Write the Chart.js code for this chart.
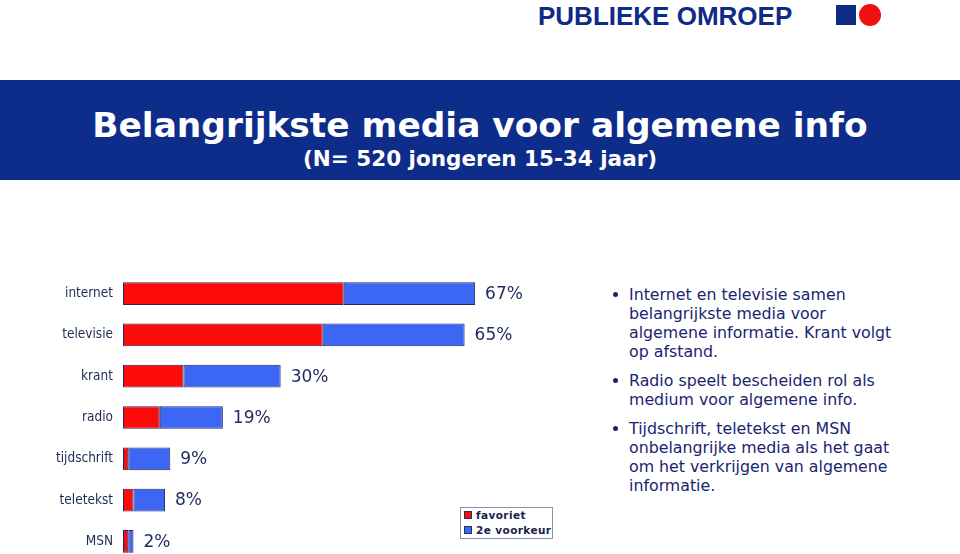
<!DOCTYPE html>
<html>
<head>
<meta charset="utf-8">
<script src="https://cdn.jsdelivr.net/npm/chart.js@4.4.0/dist/chart.umd.min.js"></script>
<style>
  html, body { margin: 0; padding: 0; background: #fff; overflow: hidden; }
  body { width: 960px; height: 554px; position: relative; font-family: "DejaVu Sans", sans-serif; }
  .logo { position: absolute; left: 538px; top: 1px; font: bold 26px "Liberation Sans", sans-serif; color: #0e2b86; }
  .logo-sq { position: absolute; left: 836px; top: 5px; width: 20px; height: 20px; background: #0e2b86; }
  .logo-dot { position: absolute; left: 859px; top: 4px; width: 22px; height: 22px; border-radius: 50%; background: #ee1111; }
  .band { position: absolute; left: 0; top: 80px; width: 960px; height: 100px; background: #0e2d8b; color: #fff; text-align: center; font-family: "DejaVu Sans", sans-serif; font-weight: bold; }
  .band h1 { margin: 0; position: absolute; left: 0; right: 0; top: 25px; font-size: 34.4px; line-height: 40px; }
  .band h2 { margin: 0; position: absolute; left: 0; right: 0; top: 67px; font-size: 21.5px; line-height: 24px; }
  #mediaChart { position: absolute; left: 0; top: 270px; }
  #legend { position: absolute; left: 460px; top: 507px; width: 88px; height: 30px; border: 1px solid #8a8fb2; background: #fff; padding: 0 0 0 3px; }
  #legend div { font: bold 10.5px "DejaVu Sans", sans-serif; letter-spacing: 0.4px; color: #1a1d4a; line-height: 15px; white-space: nowrap; }
  #legend span { display: inline-block; width: 6px; height: 6px; margin-right: 4px; border: 1px solid #2b2a6e; vertical-align: 0px; }
  .notes { position: absolute; left: 629px; top: 285px; font-size: 15.8px; line-height: 19px; color: #1a2470; white-space: nowrap; }
  .notes p { margin: 0 0 10px 0; position: relative; }
  .notes p::before { content: ""; position: absolute; left: -16px; top: 7px; width: 5px; height: 5px; border-radius: 50%; background: #1a2470; }
</style>
</head>
<body>
<div class="logo">PUBLIEKE OMROEP</div>
<div class="logo-sq"></div>
<div class="logo-dot"></div>
<div class="band">
  <h1>Belangrijkste media voor algemene info</h1>
  <h2>(N= 520 jongeren 15-34 jaar)</h2>
</div>
<canvas id="mediaChart" width="596" height="292"></canvas>
<div id="legend"></div>
<div class="notes">
  <p>Internet en televisie samen<br>belangrijkste media voor<br>algemene informatie. Krant volgt<br>op afstand.</p>
  <p>Radio speelt bescheiden rol als<br>medium voor algemene info.</p>
  <p>Tijdschrift, teletekst en MSN<br>onbelangrijke media als het gaat<br>om het verkrijgen van algemene<br>informatie.</p>
</div>
<script>
// ── Data ──
const media = ['internet', 'televisie', 'krant', 'radio', 'tijdschrift', 'teletekst', 'MSN'];
const favoriet = [42, 38, 11.5, 7, 1, 2, 1];
const tweedeVoorkeur = [25, 27, 18.5, 12, 8, 6, 1];
const totaal = [67, 65, 30, 19, 9, 8, 2];
const seriesNames = ['favoriet', '2e voorkeur'];
const seriesColors = ['#ff0a0a', '#3c66f4'];

// ── Total labels at the end of each bar ──
const totalLabels = {
  id: 'totalLabels',
  afterDatasetsDraw(chart) {
    const ctx = chart.ctx;
    const meta = chart.getDatasetMeta(chart.data.datasets.length - 1);
    ctx.save();
    ctx.font = '17px "DejaVu Sans", sans-serif';
    ctx.fillStyle = '#1f2a5e';
    ctx.textAlign = 'left';
    ctx.textBaseline = 'middle';
    meta.data.forEach((bar, i) => {
      ctx.fillText(totaal[i] + '%', bar.x + 10, bar.y + 1);
    });
    ctx.restore();
  }
};

const ctx = document.getElementById('mediaChart').getContext('2d');
const chart = new Chart(ctx, {
  type: 'bar',
  data: {
    labels: media,
    datasets: [
      { label: seriesNames[0], data: favoriet, backgroundColor: seriesColors[0], borderColor: '#2a2560', borderWidth: 1, borderSkipped: false },
      { label: seriesNames[1], data: tweedeVoorkeur, backgroundColor: seriesColors[1], borderColor: '#2a2560', borderWidth: 1, borderSkipped: false }
    ]
  },
  options: {
    indexAxis: 'y',
    responsive: false,
    animation: false,
    layout: { autoPadding: false, padding: { top: 3, left: 0, right: 0, bottom: 0 } },
    datasets: { bar: { categoryPercentage: 1, barPercentage: 0.55 } },
    plugins: { legend: { display: false }, tooltip: { enabled: false } },
    scales: {
      x: { stacked: true, min: 0, max: 90, display: false },
      y: {
        stacked: true,
        offset: true,
        grid: { display: false, drawTicks: false },
        border: { display: false },
        ticks: { color: '#1f2a55', padding: 10, font: { family: '"DejaVu Sans Condensed", "DejaVu Sans", sans-serif', size: 13.5 } },
        afterFit(scale) { scale.width = 123; scale.paddingTop = 0; scale.paddingBottom = 0; }
      }
    }
  },
  plugins: [totalLabels]
});

// ── Legend built from the datasets ──
const legendEl = document.getElementById('legend');
chart.data.datasets.forEach(ds => {
  const row = document.createElement('div');
  row.innerHTML = `<span style="background:${ds.backgroundColor}"></span>${ds.label}`;
  legendEl.appendChild(row);
});
</script>
</body>
</html>
